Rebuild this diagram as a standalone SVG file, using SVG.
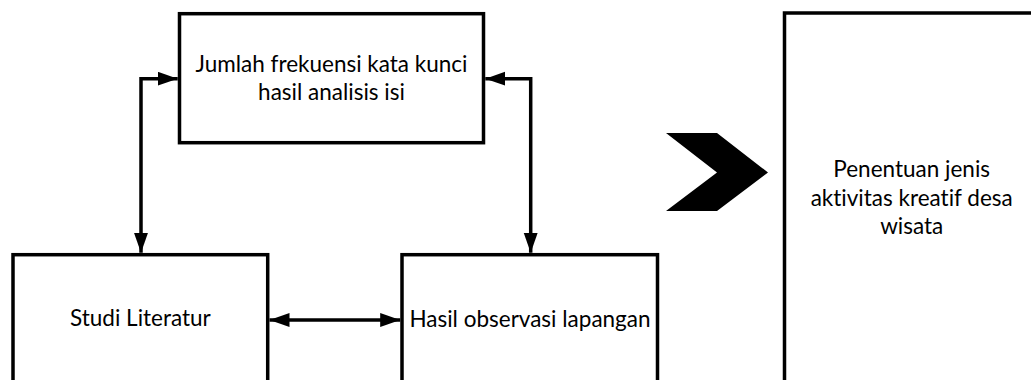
<svg xmlns="http://www.w3.org/2000/svg" width="1031" height="380" viewBox="0 0 1031 380">
  <style>
    .box { fill: #ffffff; stroke: #000000; stroke-width: 3.5; }
    .lbl { font-family: Lato, "Open Sans", "Liberation Sans", sans-serif; font-size: 22.5px; fill: #000000; text-anchor: middle; font-variant-ligatures: none; font-feature-settings: "liga" 0, "clig" 0; }
    .conn { fill: none; stroke: #000000; stroke-width: 3.5; marker-start: url(#ah); marker-end: url(#ah); }
  </style>
  <defs>
    <marker id="ah" markerUnits="userSpaceOnUse" markerWidth="21" markerHeight="15" refX="20" refY="7" orient="auto-start-reverse" viewBox="0 0 21 15">
      <path d="M0,0 L20,7 L0,14 Z" fill="#000000"/>
    </marker>
  </defs>
  <rect width="1031" height="380" fill="#ffffff"/>

  <g id="node-jumlah">
    <rect class="box" x="179.5" y="13.7" width="304" height="129"/>
    <text class="lbl" x="331.5" y="71.5">Jumlah frekuensi kata kunci</text>
    <text class="lbl" x="331.5" y="100">hasil analisis isi</text>
  </g>

  <g id="node-studi">
    <rect class="box" x="13" y="254.7" width="254.7" height="160"/>
    <text class="lbl" x="140.4" y="326">Studi Literatur</text>
  </g>

  <g id="node-observasi">
    <rect class="box" x="402" y="254.7" width="255.5" height="160"/>
    <text class="lbl" x="530" y="327">Hasil observasi lapangan</text>
  </g>

  <g id="node-chevron">
    <polygon points="666,133 717,133 768,172.5 717,211 666,211 717,172.5" fill="#000000"/>
  </g>

  <g id="node-penentuan">
    <rect class="box" x="784.5" y="13" width="255" height="400"/>
    <text class="lbl" x="911.7" y="177">Penentuan jenis</text>
    <text class="lbl" x="911.7" y="205.5">aktivitas kreatif desa</text>
    <text class="lbl" x="911.7" y="234">wisata</text>
  </g>

  <g id="connectors">
    <path class="conn" d="M141,252.8 V78.7 H177.7"/>
    <path class="conn" d="M530.7,252.8 V78.7 H485.3"/>
    <path class="conn" d="M269.5,320 H400.2"/>
  </g>
</svg>
